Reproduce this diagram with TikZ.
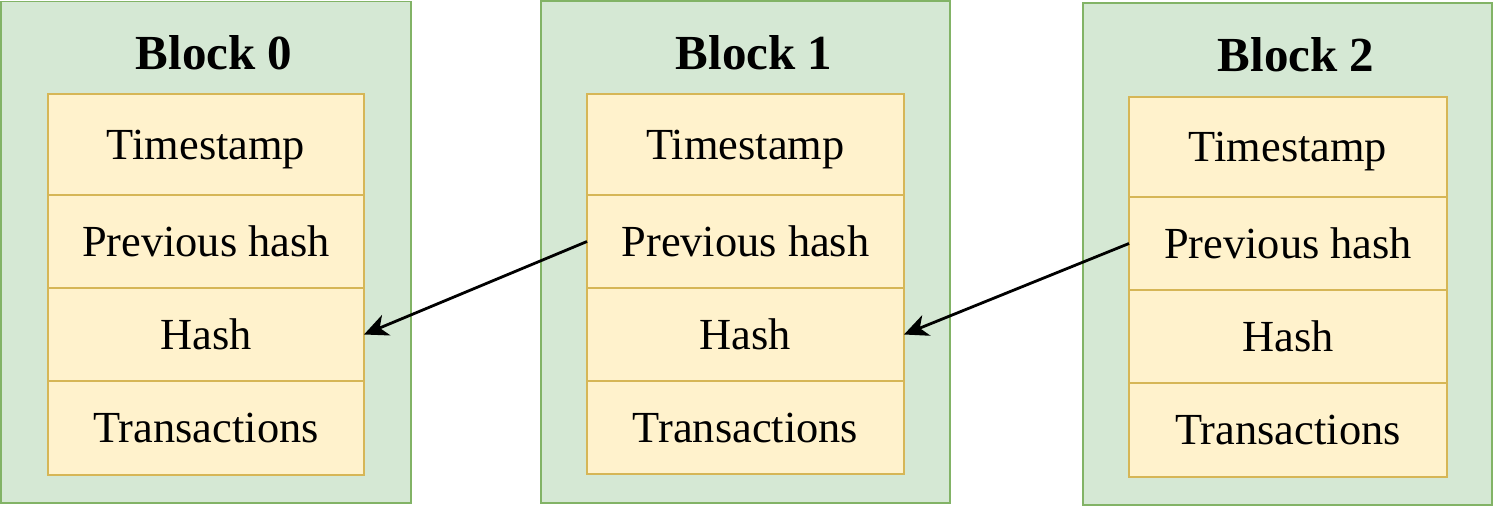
\documentclass[tikz,border=0pt]{standalone}
\usepackage{fontspec}
\setmainfont{Liberation Serif}
\usetikzlibrary{arrows.meta}
\definecolor{gfill}{HTML}{D5E8D4}
\definecolor{gline}{HTML}{82B366}
\definecolor{yfill}{HTML}{FFF2CC}
\definecolor{yline}{HTML}{D6B656}
\tikzset{
  blockbox/.style={draw=gline, fill=gfill, line width=0.6pt, inner sep=0pt, outer sep=0pt},
  rowbox/.style={draw=yline, fill=yfill, line width=0.6pt, inner sep=0pt, outer sep=0pt,
     font=\fontsize{22.2pt}{24pt}\selectfont, text height=14.7pt, text depth=0pt},
  titletext/.style={font=\fontsize{24.5pt}{26pt}\selectfont\bfseries, anchor=base, inner sep=0pt},
  link/.style={line width=1.4pt, -{Stealth[length=12pt,width=11pt,inset=3.5pt]}},
}
\begin{document}
\begin{tikzpicture}[x=0.5pt,y=-0.5pt]
\useasboundingbox (0,0) rectangle (1494,507);
% ---------- Block 0 ----------
\node[blockbox, minimum width=205pt, minimum height=250.75pt] (blk0) at (206,252.25) {};
\node[titletext] (t0) at (214,70) {Block 0};
\node[rowbox, minimum width=158pt, minimum height=50.5pt] (b0r1) at (206,144.5) {Timestamp};
\node[rowbox, minimum width=158pt, minimum height=46.5pt] (b0r2) at (206,241.5) {Previous hash};
\node[rowbox, minimum width=158pt, minimum height=46.5pt] (b0r3) at (206,334.5) {Hash};
\node[rowbox, minimum width=158pt, minimum height=47pt] (b0r4) at (206,428) {Transactions};
% ---------- Block 1 ----------
\node[blockbox, minimum width=204.5pt, minimum height=251pt] (blk1) at (745.5,252) {};
\node[titletext] (t1) at (754,70) {Block 1};
\node[rowbox, minimum width=158.5pt, minimum height=50.5pt] (b1r1) at (745.5,144.5) {Timestamp};
\node[rowbox, minimum width=158.5pt, minimum height=46.5pt] (b1r2) at (745.5,241.5) {Previous hash};
\node[rowbox, minimum width=158.5pt, minimum height=46.5pt] (b1r3) at (745.5,334.5) {Hash};
\node[rowbox, minimum width=158.5pt, minimum height=46.5pt] (b1r4) at (745.5,427.5) {Transactions};
% ---------- Block 2 ----------
\node[blockbox, minimum width=204.5pt, minimum height=251pt] (blk2) at (1287.5,254) {};
\node[titletext] (t2) at (1296,72) {Block 2};
\node[rowbox, minimum width=159pt, minimum height=50pt] (b2r1) at (1288,147) {Timestamp};
\node[rowbox, minimum width=159pt, minimum height=46.5pt] (b2r2) at (1288,243.5) {Previous hash};
\node[rowbox, minimum width=159pt, minimum height=46.5pt] (b2r3) at (1288,336.5) {Hash};
\node[rowbox, minimum width=159pt, minimum height=47pt] (b2r4) at (1288,430) {Transactions};
% ---------- links ----------
\draw[link] (b1r2.west) -- (b0r3.east);
\draw[link] (b2r2.west) -- (b1r3.east);
\end{tikzpicture}
\end{document}
